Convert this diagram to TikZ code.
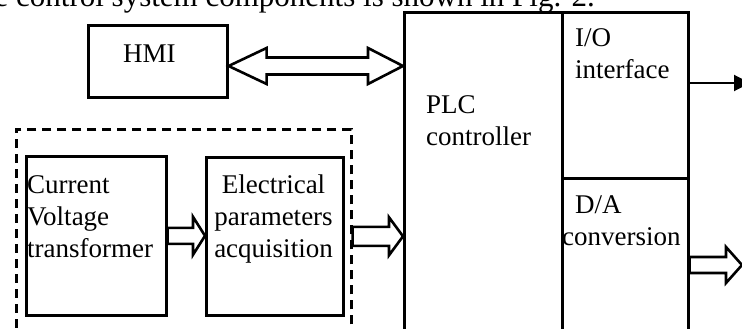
\documentclass[tikz,border=0pt]{standalone}
\usepackage{fontspec}
\setmainfont{Liberation Serif}
\usetikzlibrary{calc, arrows.meta}

% hollow block arrow: from, to, head length, shaft half width, head half width
\newcommand{\hollowarrow}[5]{%
  \draw[arrowline] let \p1=#1, \p2=#2 in
    (\x1,\y1+#4) -- (\x2-#3,\y1+#4) -- (\x2-#3,\y1+#5) -- (\x2,\y1)
    -- (\x2-#3,\y1-#5) -- (\x2-#3,\y1-#4) -- (\x1,\y1-#4) -- cycle;}

\begin{document}
\begin{tikzpicture}[x=1pt, y=-1pt,
    blk/.style={draw, line width=2.6pt, rectangle, anchor=north west, inner sep=0pt},
    grp/.style={draw, line width=2.6pt, dash pattern=on 9pt off 6pt, rectangle, anchor=north west, inner sep=0pt},
    txt/.style={inner sep=0pt, anchor=base west, align=left, font=\fontsize{27}{32}\selectfont},
    arrowline/.style={line width=2.6pt, fill=white, line join=miter}]
  \useasboundingbox (0,0) rectangle (742,329);
  % caption line cut by the crop
  \node[txt, anchor=base east, font=\fontsize{31}{36}\selectfont] (caption) at (595,7) {e control system components is shown in Fig. 2.};
  % boxes
  \node[blk, minimum width=139pt, minimum height=72pt] (hmi) at (87,24) {};
  \node[blk, minimum width=158pt, minimum height=340pt] (plc) at (403,11) {};
  \node[blk, minimum width=126pt, minimum height=166pt] (io) at (561,11) {};
  \node[blk, minimum width=126pt, minimum height=170pt] (da) at (561,177) {};
  \node[grp, minimum width=335pt, minimum height=220pt] (acq) at (15,128) {};
  \node[blk, minimum width=140pt, minimum height=159pt] (cur) at (25,155) {};
  \node[blk, minimum width=137pt, minimum height=158pt] (elec) at (205,156) {};
  % labels (base = last line)
  \node[txt] (hmitxt) at (123,63) {HMI};
  \node[txt] (plctxt) at (426,145) {PLC\\controller};
  \node[txt] (iotxt) at (575,78) {I/O\\interface};
  \node[txt] (datxt) at (562,245) {\hspace*{13pt}D/A\\conversion};
  \node[txt] (curtxt) at (27,257) {Current\\Voltage\\transformer};
  \node[txt, anchor=base, align=center] (electxt) at (273.5,257) {Electrical\\parameters\\acquisition};
  % connectors
  \coordinate (hmiport) at (hmi.east |- 0,66);
  \coordinate (plcport) at (plc.west |- 0,66);
  \draw[arrowline] let \p1=(hmiport), \p2=(plcport) in
    (\x1,\y1) -- (\x1+38pt,\y1+18pt) -- (\x1+38pt,\y1+8.5pt) -- (\x2-35pt,\y1+8.5pt)
    -- (\x2-35pt,\y1+18pt) -- (\x2,\y1) -- (\x2-35pt,\y1-18pt) -- (\x2-35pt,\y1-8.5pt)
    -- (\x1+38pt,\y1-8.5pt) -- (\x1+38pt,\y1-18pt) -- cycle;
  \hollowarrow{(cur.east)}{(elec.west)}{12pt}{8pt}{19pt}
  \hollowarrow{(elec.east -| acq.east)}{(elec.east -| plc.west)}{14pt}{9.5pt}{19pt}
  \coordinate (ioout) at (750,83);
  \draw[line width=2pt, -{Triangle[length=16pt, width=16pt]}] (io.east |- ioout) -- (ioout);
  \coordinate (daout) at (742,265);
  \hollowarrow{(da.east |- daout)}{(daout)}{16pt}{8pt}{18pt}
\end{tikzpicture}
\end{document}
